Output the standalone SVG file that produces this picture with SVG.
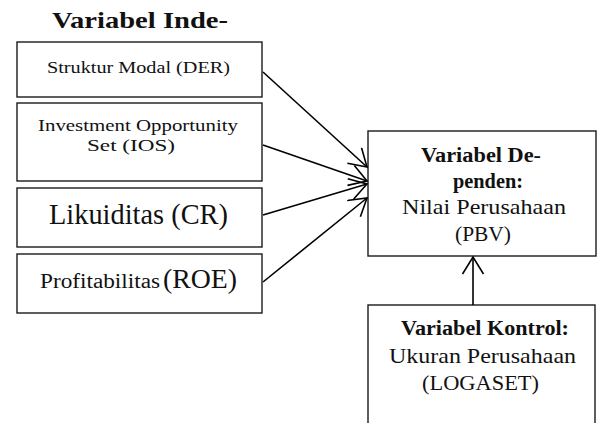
<svg xmlns="http://www.w3.org/2000/svg" width="597" height="423" viewBox="0 0 597 423">
<style>
.box{fill:#fff;stroke:#1a1a1a;stroke-width:1.4}
.t{font-family:"Liberation Serif","Times New Roman",serif;fill:#111}
.b{font-weight:bold}
.edge{stroke:#000;stroke-width:1.6;fill:none;marker-end:url(#ah)}
</style>
<defs>
<marker id="ah" markerUnits="userSpaceOnUse" markerWidth="20" markerHeight="24" viewBox="0 0 20 24" refX="18" refY="11" orient="auto">
<path d="M1,0.5 L18,11 L1,21.5" fill="none" stroke="#000" stroke-width="1.6"/>
</marker>
</defs>
<rect width="597" height="423" fill="#fff"/>
<text class="t b" x="52" y="28" font-size="23.5" textLength="176" lengthAdjust="spacingAndGlyphs">Variabel Inde-</text>
<g id="n1">
<rect class="box" x="17" y="42" width="245" height="55"/>
<text class="t" x="47" y="73" font-size="16.5" textLength="183" lengthAdjust="spacingAndGlyphs">Struktur Modal (DER)</text>
</g>
<g id="n2">
<rect class="box" x="17" y="103" width="245" height="78"/>
<text class="t" x="38" y="131" font-size="17.5" textLength="200" lengthAdjust="spacingAndGlyphs">Investment Opportunity</text>
<text class="t" x="87" y="151" font-size="17.5" textLength="88" lengthAdjust="spacingAndGlyphs">Set (IOS)</text>
</g>
<g id="n3">
<rect class="box" x="17" y="188" width="245" height="59"/>
<text class="t" x="49" y="224" font-size="29" textLength="179" lengthAdjust="spacingAndGlyphs">Likuiditas (CR)</text>
</g>
<g id="n4">
<rect class="box" x="17" y="254" width="245" height="59"/>
<text class="t" x="40" y="288" font-size="20" textLength="120" lengthAdjust="spacingAndGlyphs">Profitabilitas</text>
<text class="t" x="163" y="288" font-size="28" textLength="74" lengthAdjust="spacingAndGlyphs">(ROE)</text>
</g>
<g id="n5">
<rect class="box" x="368" y="131" width="228" height="125"/>
<text class="t b" x="421" y="162" font-size="20" textLength="120" lengthAdjust="spacingAndGlyphs">Variabel De-</text>
<text class="t b" x="453" y="188" font-size="20" textLength="70" lengthAdjust="spacingAndGlyphs">penden:</text>
<text class="t" x="402" y="214" font-size="21" textLength="164" lengthAdjust="spacingAndGlyphs">Nilai Perusahaan</text>
<text class="t" x="455" y="241" font-size="21" textLength="56" lengthAdjust="spacingAndGlyphs">(PBV)</text>
</g>
<g id="n6">
<rect class="box" x="368" y="305" width="227" height="130"/>
<text class="t b" x="401" y="335" font-size="20" textLength="168" lengthAdjust="spacingAndGlyphs">Variabel Kontrol:</text>
<text class="t" x="389" y="363" font-size="21" textLength="187" lengthAdjust="spacingAndGlyphs">Ukuran Perusahaan</text>
<text class="t" x="422" y="390" font-size="21" textLength="117" lengthAdjust="spacingAndGlyphs">(LOGASET)</text>
</g>
<g id="connectors">
<line class="edge" x1="263" y1="72" x2="367" y2="167"/>
<line class="edge" x1="263" y1="145" x2="367" y2="181"/>
<line class="edge" x1="263" y1="215" x2="367" y2="184"/>
<line class="edge" x1="263" y1="282" x2="367" y2="198"/>
<line class="edge" x1="473" y1="305" x2="473" y2="257"/>
</g>
</svg>
